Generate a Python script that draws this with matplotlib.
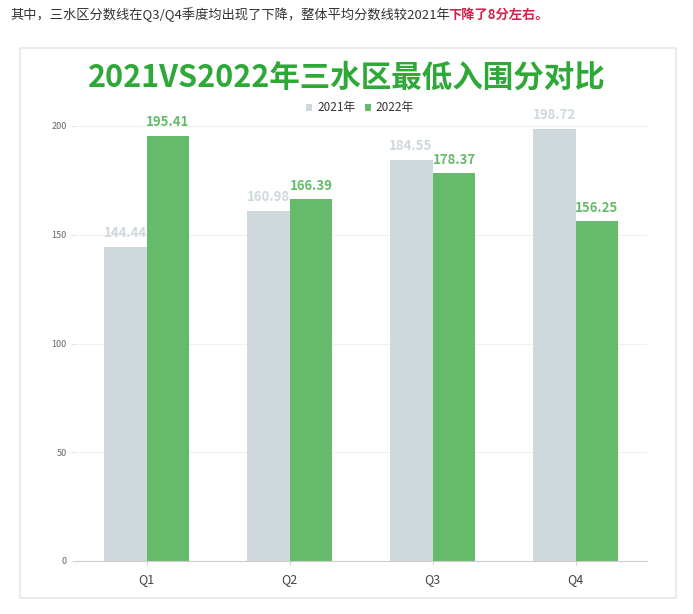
import matplotlib.pyplot as plt
from matplotlib.patches import Rectangle
import numpy as np

plt.rcParams['font.family'] = ['Noto Sans CJK SC', 'DejaVu Sans']

quarters = ['Q1', 'Q2', 'Q3', 'Q4']
scores_2021 = [144.44, 160.98, 184.55, 198.72]
scores_2022 = [195.41, 166.39, 178.37, 156.25]
series_names = ['2021年', '2022年']
yticks = [0, 50, 100, 150, 200]

gray = '#cfd8dc'
green = '#66bb6a'

fig = plt.figure(figsize=(6.93, 6.14), dpi=100)

# card background with faint border (behind the axes)
fig.patches.append(Rectangle((20 / 693, 1 - 598 / 614), 656 / 693, 550 / 614,
                             transform=fig.transFigure, facecolor='white',
                             edgecolor='#e8e8e8', linewidth=1.2, zorder=-5))

# intro sentence above the card
fig.text(10 / 693, 1 - 15 / 614, '其中，三水区分数线在Q3/Q4季度均出现了下降，整体平均分数线较2021年',
         fontsize=9.5, color='#333333', va='center', ha='left')
fig.text(448 / 693, 1 - 15 / 614, '下降了8分左右。', fontsize=9.5, color='#d6204b',
         fontweight='bold', va='center', ha='left')

fig.text(347 / 693, 1 - 78 / 614, '2021VS2022年三水区最低入围分对比', fontsize=22,
         fontweight='bold', color='#2ea836', ha='center', va='center')

ax = fig.add_axes([75 / 693, 53 / 614, 572 / 693, 435 / 614])
ax.set_facecolor('none')
x = np.arange(len(quarters))
w = 0.3
b1 = ax.bar(x - w / 2, scores_2021, w, color=gray, label=series_names[0], zorder=2)
b2 = ax.bar(x + w / 2, scores_2022, w, color=green, label=series_names[1], zorder=2)

for xi, v in zip(x, scores_2021):
    ax.text(xi - w / 2, v + 3, f'{v:.2f}', ha='center', va='bottom', fontsize=9.5,
            fontweight='bold', color='#cfd8dc')
for xi, v in zip(x, scores_2022):
    ax.text(xi + w / 2, v + 3, f'{v:.2f}', ha='center', va='bottom', fontsize=9.5,
            fontweight='bold', color='#66bb6a')

ax.set_xlim(-0.5, 3.5)
ax.set_ylim(0, 200)
ax.set_yticks(yticks)
ax.set_xticks(x)
ax.set_xticklabels(quarters, fontsize=9, color='#444444')
ax.tick_params(axis='y', labelsize=6.5, colors='#666666', length=3, width=0.6, pad=3)
ax.tick_params(axis='x', length=3, width=0.6, colors='#cccccc', labelcolor='#444444', pad=6)
ax.yaxis.grid(True, color='#f0f0f0', linewidth=0.8, zorder=0)
for s in ['top', 'right', 'left']:
    ax.spines[s].set_visible(False)
ax.spines['bottom'].set_color('#cccccc')
ax.tick_params(axis='y', color='#dddddd')

fig.legend(handles=[b1, b2], labels=series_names, loc='center',
           bbox_to_anchor=(360 / 693, 1 - 108 / 614), ncol=2, frameon=False,
           fontsize=8.5, handlelength=0.5, handleheight=0.5, handletextpad=0.4,
           columnspacing=0.8, labelcolor='#333333')

fig.savefig('out.png', dpi=100)
